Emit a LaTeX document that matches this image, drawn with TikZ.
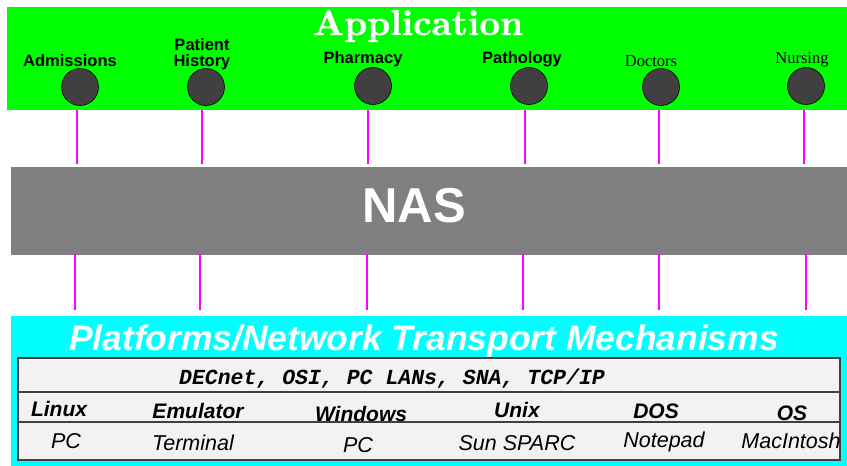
\documentclass[tikz,border=0pt]{standalone}
\usepackage{fontspec}
\newfontfamily\arialf{Liberation Sans}
\newfontfamily\timesf{Liberation Serif}
\newfontfamily\courf{Liberation Mono}
\newfontfamily\lmbx{lmroman10-bold}[Extension=.otf, FakeBold=1.3]
\definecolor{appgreen}{HTML}{00FF00}
\definecolor{nasgray}{HTML}{808080}
\definecolor{platcyan}{HTML}{00FFFF}
\definecolor{tablegray}{HTML}{F2F2F2}
\definecolor{dotgray}{HTML}{404040}
\definecolor{linkmag}{HTML}{FF00FF}
\tikzset{
  appdot/.style={circle, fill=dotgray, draw=black, line width=0.6pt, minimum size=37pt, inner sep=0pt},
  applbl/.style={anchor=base, inner sep=0pt, font=\arialf\bfseries\fontsize{16.5}{16}\selectfont},
  applblser/.style={anchor=base, inner sep=0pt, font=\timesf\fontsize{16.5}{16}\selectfont},
  link/.style={draw=linkmag, line width=2.8pt},
  hdr/.style={anchor=base, inner sep=0pt, font=\arialf\bfseries\itshape\fontsize{21}{21}\selectfont},
  cell/.style={anchor=base, inner sep=0pt, font=\arialf\itshape\fontsize{21.5}{21}\selectfont},
  rule/.style={draw=dotgray, line width=1.2pt}
}
\begin{document}
\begin{tikzpicture}[x=1pt,y=-1pt]
\useasboundingbox (0,0) rectangle (847,466);
% bands
\fill[appgreen] (7,7) rectangle (847,110);
\fill[nasgray] (11,167) rectangle (847,255);
\fill[platcyan] (11,316) rectangle (847,466);
% titles
\node[anchor=base, inner sep=0pt, text=white, font=\lmbx\fontsize{36}{36}\selectfont] (apptitle) at (418,35) {Application};
\node[anchor=base, inner sep=0pt, text=white, font=\arialf\bfseries\fontsize{49}{49}\selectfont] (nastitle) at (414,222) {NAS};
\node[anchor=base, inner sep=0pt, text=white, font=\arialf\bfseries\itshape\fontsize{35.4}{35}\selectfont] (plattitle) at (424,350) {Platforms/Network Transport Mechanisms};
% application dots
\node[appdot] (d1) at (80,87) {};
\node[appdot] (d2) at (206,87) {};
\node[appdot] (d3) at (373,86) {};
\node[appdot] (d4) at (529,86) {};
\node[appdot] (d5) at (661,87) {};
\node[appdot] (d6) at (806,86) {};
% labels
\node[applbl] (l1) at (70,66) {Admissions};
\node[applbl] (l2a) at (202,50) {Patient};
\node[applbl] (l2b) at (202,66) {History};
\node[applbl] (l3) at (363,63) {Pharmacy};
\node[applbl] (l4) at (522,63) {Pathology};
\node[applblser] (l5) at (651,66) {Doctors};
\node[applblser] (l6) at (802,63) {Nursing};
% links
\foreach \i/\xa/\xb in {1/77/75, 2/202/200, 3/368/367, 4/525/523, 5/659/659, 6/804/806}{
  \coordinate (ua\i) at (\xa,110);
  \coordinate (ub\i) at (\xa,164);
  \coordinate (la\i) at (\xb,254);
  \coordinate (lb\i) at (\xb,310);
  \draw[link] (ua\i) -- (ub\i);
  \draw[link] (la\i) -- (lb\i);
}
% table
\draw[rule, fill=tablegray] (18,358) rectangle (840,460);
\coordinate (r1a) at (18,392); \coordinate (r1b) at (840,392);
\coordinate (r2a) at (18,422); \coordinate (r2b) at (840,422);
\draw[rule] (r1a) -- (r1b);
\draw[rule] (r2a) -- (r2b);
\node[anchor=base, inner sep=0pt, font=\courf\bfseries\itshape\fontsize{21.5}{21}\selectfont] (proto) at (392,384) {DECnet, OSI, PC LANs, SNA, TCP/IP};
\node[hdr] (h1) at (59,416) {Linux};
\node[hdr] (h2) at (198,418) {Emulator};
\node[hdr] (h3) at (361,421) {Windows};
\node[hdr] (h4) at (517,417) {Unix};
\node[hdr] (h5) at (656,418) {DOS};
\node[hdr] (h6) at (792,420) {OS};
\node[cell] (c1) at (66,448) {PC};
\node[cell] (c2) at (193,450) {Terminal};
\node[cell] (c3) at (358,452) {PC};
\node[cell] (c4) at (517,450) {Sun SPARC};
\node[cell] (c5) at (664,447) {Notepad};
\node[cell] (c6) at (791,448) {MacIntosh};
\end{tikzpicture}
\end{document}
